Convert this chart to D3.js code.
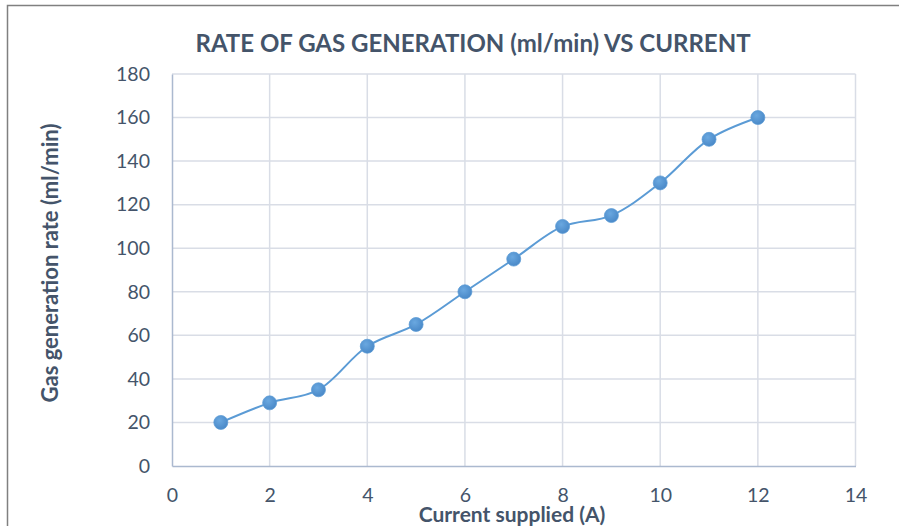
<!DOCTYPE html>
<html>
<head>
<meta charset="utf-8">
<script src="https://cdn.jsdelivr.net/npm/d3@7"></script>
<style>
  body { margin: 0; background: #fff; }
  svg { display: block; }
</style>
</head>
<body>
<div id="chart"></div>
<script>
// data
var current = [1, 2, 3, 4, 5, 6, 7, 8, 9, 10, 11, 12];
var gasRate = [20, 29, 35, 55, 65, 80, 95, 110, 115, 130, 150, 160];
var xTicks = [0, 2, 4, 6, 8, 10, 12, 14];
var yTicks = [0, 20, 40, 60, 80, 100, 120, 140, 160, 180];

var svg_width = 899, svg_height = 526;
var margin = {top: 74, right: 44, bottom: 60, left: 172};
var width = 855.5 - margin.left,
    height = 466 - margin.top;

var textColor = "#44546a";

var svg = d3.select("#chart").append("svg")
    .attr("width", svg_width)
    .attr("height", svg_height)
    .style("font-family", "Lato, 'Open Sans', sans-serif");

// outer border
svg.append("rect")
    .attr("x", 7.5).attr("y", 5.5)
    .attr("width", 900).attr("height", 530)
    .attr("fill", "#fff")
    .attr("stroke", "#808080")
    .attr("stroke-width", 1.5);

var defs = svg.append("defs");
var grad = defs.append("radialGradient").attr("id", "dotGrad")
    .attr("cx", "40%").attr("cy", "35%").attr("r", "65%");
grad.append("stop").attr("offset", "0%").attr("stop-color", "#6aa8e0");
grad.append("stop").attr("offset", "100%").attr("stop-color", "#4a89c8");

var g = svg.append("g")
    .attr("transform", "translate(" + margin.left + "," + margin.top + ")");

var x = d3.scaleLinear().domain([0, 14]).range([0, width]);
var y = d3.scaleLinear().domain([0, 180]).range([height, 0]);

// gridlines
g.selectAll(".hgrid")
    .data(yTicks.filter(function(d) { return d > 0; }))
    .enter().append("line")
    .attr("x1", 0).attr("x2", width)
    .attr("y1", function(d) { return y(d); })
    .attr("y2", function(d) { return y(d); })
    .attr("stroke", "#d9dde6").attr("stroke-width", 1.5);

g.selectAll(".vgrid")
    .data(xTicks.filter(function(d) { return d > 0; }))
    .enter().append("line")
    .attr("x1", function(d) { return x(d); })
    .attr("x2", function(d) { return x(d); })
    .attr("y1", 0).attr("y2", height)
    .attr("stroke", "#d9dde6").attr("stroke-width", 1.5);

// axes
var xAxis = g.append("g")
    .attr("transform", "translate(0," + height + ")")
    .call(d3.axisBottom(x).tickValues(xTicks).tickSize(0).tickPadding(22));
var yAxis = g.append("g")
    .call(d3.axisLeft(y).tickValues(yTicks).tickSize(0).tickPadding(22));

[xAxis, yAxis].forEach(function(ax) {
  ax.select(".domain").attr("stroke", "#abb9cf").attr("stroke-width", 1.5);
  ax.selectAll("text")
      .attr("fill", textColor)
      .style("font-size", "19.5px")
      .style("font-family", "Lato, 'Open Sans', sans-serif");
});
xAxis.selectAll("text").attr("dy", "0.71em").attr("y", 22);

// line
var line = d3.line()
    .x(function(d, i) { return x(current[i]); })
    .y(function(d) { return y(d); })
    .curve(d3.curveCatmullRom.alpha(0.5));

g.append("path")
    .datum(gasRate)
    .attr("fill", "none")
    .attr("stroke", "#5b9bd5")
    .attr("stroke-width", 2)
    .attr("d", line);

g.selectAll(".dot")
    .data(gasRate)
    .enter().append("circle")
    .attr("cx", function(d, i) { return x(current[i]); })
    .attr("cy", function(d) { return y(d); })
    .attr("r", 7)
    .attr("fill", "url(#dotGrad)")
    .attr("stroke", "#5b9bd5")
    .attr("stroke-width", 0.75);

// titles
svg.append("text")
    .attr("x", 473).attr("y", 52)
    .attr("text-anchor", "middle")
    .attr("fill", textColor)
    .style("font-size", "24px")
    .style("font-weight", "bold")
    .text("RATE OF GAS GENERATION (ml/min) VS CURRENT");

svg.append("text")
    .attr("x", 512).attr("y", 522)
    .attr("text-anchor", "middle")
    .attr("fill", textColor)
    .style("font-size", "21px")
    .style("font-weight", "bold")
    .text("Current supplied (A)");

svg.append("text")
    .attr("transform", "translate(58,263) rotate(-90)")
    .attr("text-anchor", "middle")
    .attr("fill", textColor)
    .style("font-size", "22px")
    .style("font-weight", "bold")
    .text("Gas generation rate (ml/min)");
</script>
</body>
</html>
